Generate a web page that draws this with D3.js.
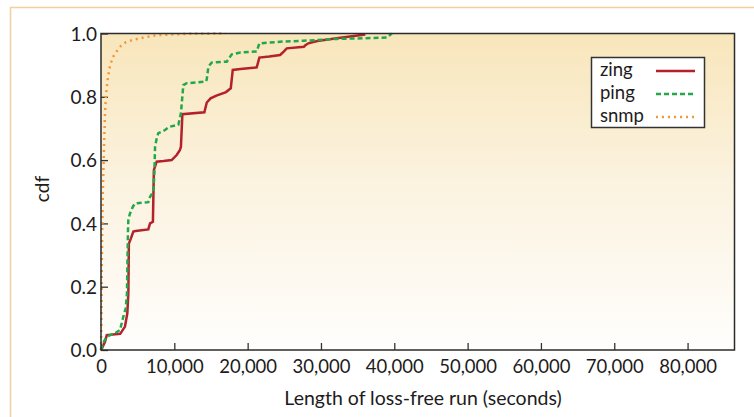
<html>
  <head>
    <meta charset="utf-8" />
    <title>cdf of loss-free run length</title>
    <script src="https://d3js.org/d3.v7.min.js"></script>
    <style type="text/css">
      body { margin: 0; background: white; }
      text { font-family: Lato, "Open Sans", sans-serif; fill: #1d1b1b; }
    </style>
  </head>
  <body>
    <div id="chart"></div>
    <script type="text/javascript">
      // run length (seconds) and cdf
      var zingRun = [0, 130, 545, 790, 2620, 2820, 3270, 3590, 3730, 3800, 4070, 4410, 4720, 6450, 6690, 7080, 7210, 7590, 8520, 9640, 10320, 10750, 10900, 11100, 14100, 14300, 14430, 14950, 15740, 17050, 17700, 17970, 19020, 21240, 21600, 22950, 24420, 24920, 25330, 27670, 27830, 28280, 29510, 32130, 36050];
      var zingCdf = [0, 0.005, 0.026, 0.047, 0.051, 0.058, 0.074, 0.116, 0.18, 0.336, 0.352, 0.374, 0.376, 0.381, 0.40, 0.405, 0.568, 0.595, 0.597, 0.60, 0.616, 0.631, 0.642, 0.745, 0.751, 0.77, 0.782, 0.795, 0.804, 0.815, 0.827, 0.885, 0.888, 0.893, 0.924, 0.927, 0.932, 0.943, 0.953, 0.958, 0.962, 0.969, 0.976, 0.985, 0.997];

      var pingRun = [0, 330, 775, 1910, 2590, 3040, 3370, 3540, 3670, 3730, 3930, 4330, 4640, 4920, 6450, 6690, 7140, 7280, 7370, 7610, 7820, 8730, 9310, 10360, 10550, 10900, 11230, 11690, 14300, 14420, 14650, 15080, 17150, 17830, 19020, 21240, 21600, 24420, 27600, 32150, 36070, 38980, 39660];
      var pingCdf = [0, 0.024, 0.042, 0.053, 0.063, 0.105, 0.132, 0.177, 0.367, 0.41, 0.43, 0.452, 0.463, 0.464, 0.467, 0.484, 0.50, 0.558, 0.642, 0.67, 0.685, 0.695, 0.705, 0.711, 0.712, 0.748, 0.837, 0.843, 0.848, 0.855, 0.895, 0.908, 0.911, 0.934, 0.94, 0.943, 0.969, 0.974, 0.977, 0.983, 0.985, 0.987, 1.0];

      var snmpRun = [0, 60, 100, 180, 250, 310, 410, 545, 700, 860, 1130, 1360, 1680, 2180, 2730, 3410, 4270, 5090, 6000, 6920, 7830, 9550, 12000, 17000];
      var snmpCdf = [0, 0.1, 0.25, 0.4, 0.5, 0.55, 0.64, 0.75, 0.81, 0.846, 0.888, 0.908, 0.927, 0.945, 0.961, 0.973, 0.979, 0.984, 0.988, 0.992, 0.995, 0.997, 0.999, 1.0];

      var xTicks = [0, 10000, 20000, 30000, 40000, 50000, 60000, 70000, 80000];
      var yTicks = [0, 0.2, 0.4, 0.6, 0.8, 1.0];
      var seriesNames = ["zing", "ping", "snmp"];

      var width = 754, height = 417;
      var plotLeft = 101, plotRight = 734.5, plotTop = 33.5, plotBottom = 350;

      var svg = d3.select("#chart").append("svg")
          .attr("width", width)
          .attr("height", height);

      // light orange frame round the figure
      svg.append("rect")
          .attr("x", 10.5).attr("y", 7.5)
          .attr("width", 760).attr("height", 430)
          .style("fill", "none")
          .style("stroke", "#f2cfa0")
          .style("stroke-width", 1.5);

      var grad = svg.append("defs").append("linearGradient")
          .attr("id", "bg").attr("x1", 0).attr("y1", 0).attr("x2", 0).attr("y2", 1);
      grad.append("stop").attr("offset", "0%").attr("stop-color", "#f8e6bb");
      grad.append("stop").attr("offset", "45%").attr("stop-color", "#fbf2de");
      grad.append("stop").attr("offset", "100%").attr("stop-color", "#fffefd");

      var x = d3.scaleLinear().domain([0, 86400]).range([plotLeft, plotRight]);
      var y = d3.scaleLinear().domain([0, 1]).range([plotBottom, plotTop]);

      svg.append("rect")
          .attr("x", plotLeft).attr("y", plotTop)
          .attr("width", plotRight - plotLeft).attr("height", plotBottom - plotTop)
          .style("fill", "url(#bg)");

      var xAxis = svg.append("g")
          .attr("transform", "translate(0," + plotBottom + ")")
          .call(d3.axisTop(x).tickValues(xTicks).tickSize(7).tickFormat(d3.format(",")));
      xAxis.select(".domain").remove();
      xAxis.selectAll("line").style("stroke", "#333").style("stroke-width", 1.3);
      xAxis.selectAll("text")
          .attr("y", 23).attr("dy", 0)
          .style("font-size", "18.5px");

      var yAxis = svg.append("g")
          .attr("transform", "translate(" + plotLeft + ",0)")
          .call(d3.axisRight(y).tickValues(yTicks).tickSize(7).tickFormat(d3.format(".1f")));
      yAxis.select(".domain").remove();
      yAxis.selectAll("line").style("stroke", "#333").style("stroke-width", 1.3);
      yAxis.selectAll("text")
          .attr("x", -4).attr("dy", "0.36em")
          .style("text-anchor", "end")
          .style("font-size", "19px");

      var line = d3.line()
          .x(function(d) { return x(d[0]); })
          .y(function(d) { return y(d[1]); });

      var series = [
        { name: "zing", run: zingRun, cdf: zingCdf, color: "#b3212b", dash: null },
        { name: "ping", run: pingRun, cdf: pingCdf, color: "#22a84a", dash: "5,3" },
        { name: "snmp", run: snmpRun, cdf: snmpCdf, color: "#f3973a", dash: "2,4" }
      ];

      // snmp first, then zing, ping on top
      [series[2], series[0], series[1]].forEach(function(s) {
        svg.append("path")
            .datum(d3.zip(s.run, s.cdf))
            .attr("d", line)
            .style("fill", "none")
            .style("stroke", s.color)
            .style("stroke-width", 2.5)
            .style("stroke-dasharray", s.dash);
      });

      // plot frame
      svg.append("rect")
          .attr("x", plotLeft).attr("y", plotTop)
          .attr("width", plotRight - plotLeft).attr("height", plotBottom - plotTop)
          .style("fill", "none")
          .style("stroke", "#2b2b2b")
          .style("stroke-width", 1.5);

      svg.append("text")
          .attr("x", 423)
          .attr("y", 405)
          .style("text-anchor", "middle")
          .style("font-size", "19.5px")
          .text("Length of loss-free run (seconds)");

      svg.append("text")
          .attr("transform", "translate(49,189) rotate(-90)")
          .style("text-anchor", "middle")
          .style("font-size", "19px")
          .text("cdf");

      // legend
      var legend = svg.append("g");
      legend.append("rect")
          .attr("x", 591.5).attr("y", 57.5)
          .attr("width", 113).attr("height", 70)
          .style("fill", "white")
          .style("stroke", "#333")
          .style("stroke-width", 1.5);
      series.forEach(function(s, i) {
        var cy = 70 + i * 23;
        legend.append("text")
            .attr("x", 600).attr("y", cy)
            .attr("dy", "0.32em")
            .style("font-size", "18.5px")
            .text(seriesNames[i]);
        legend.append("line")
            .attr("x1", 656).attr("x2", 695)
            .attr("y1", cy + 1).attr("y2", cy + 1)
            .style("stroke", s.color)
            .style("stroke-width", 2.5)
            .style("stroke-dasharray", s.dash);
      });
    </script>
  </body>
</html>
